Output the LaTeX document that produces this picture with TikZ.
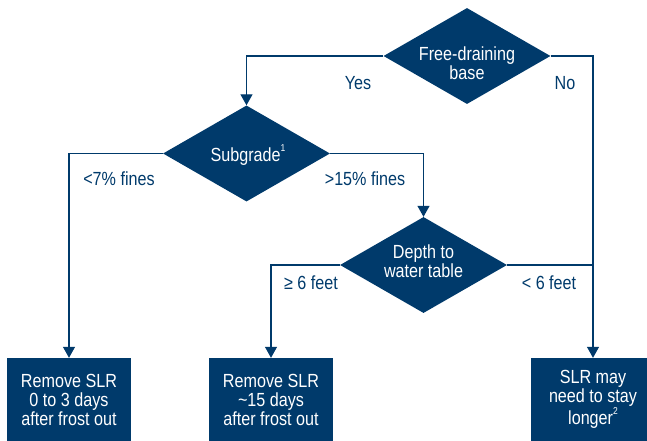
\documentclass[tikz,border=0pt]{standalone}
\usepackage{fontspec}
\setmainfont[FakeStretch=0.85]{Liberation Sans}
\usetikzlibrary{shapes.geometric,arrows.meta}
\definecolor{navy}{RGB}{0,58,107}
\newcommand{\supmark}[1]{\raisebox{0.5em}{\fontsize{10}{10}\selectfont #1}}
\tikzset{
  txt/.style={font=\fontsize{19}{19}\selectfont},
  dec/.style={diamond, aspect=1.74, fill=navy, inner sep=0pt, minimum width=167pt, minimum height=96pt},
  dtext/.style={txt, text=white, inner sep=0pt, align=center},
  outbox/.style={txt, rectangle, fill=navy, text=white, inner sep=0pt, minimum width=124pt, minimum height=83pt, align=center},
  lbl/.style={txt, text=navy, inner sep=0pt},
  conn/.style={draw=navy, line width=1.2pt},
  arr/.style={conn, -{Triangle[width=12pt,length=11pt]}}
}
\begin{document}
\begin{tikzpicture}[x=1pt,y=-1pt]
\useasboundingbox (0,0) rectangle (647,441);
\node[dec] (d1) at (467,56) {};
\node[dtext] (t1) at (467,63.5) {Free-draining\\base};
\node[dec] (d2) at (246.5,153.5) {};
\node[dtext] (t2) at (248,155) {Subgrade\supmark{1}};
\node[dec] (d3) at (423.5,265) {};
\node[dtext] (t3) at (423.5,261.5) {Depth to\\water table};
\node[outbox] (b1) at (69,399.5) {Remove SLR\\0 to 3 days\\after frost out};
\node[outbox] (b2) at (271,399.5) {Remove SLR\\\textasciitilde15 days\\after frost out};
\node[outbox] (b3) at (593,399.5) {SLR may\\need to stay\\longer\supmark{2}};
\coordinate (j) at (d3.east -| b3.north);
\draw[arr] (d1.west) -| (d2.north);
\draw[arr] (d1.east) -| (b3.north);
\draw[arr] (d2.west) -| (b1.north);
\draw[arr] (d2.east) -| (d3.north);
\draw[arr] (d3.west) -| (b2.north);
\draw[conn] (d3.east) -- (j);
\node[lbl] (l1) at (358,83) {Yes};
\node[lbl] (l2) at (565,83) {No};
\node[lbl] (l3) at (119,179) {<7\% fines};
\node[lbl] (l4) at (365,179) {>15\% fines};
\node[lbl] (l5) at (311,283) {≥ 6 feet};
\node[lbl] (l6) at (549,283) {< 6 feet};
\end{tikzpicture}
\end{document}
